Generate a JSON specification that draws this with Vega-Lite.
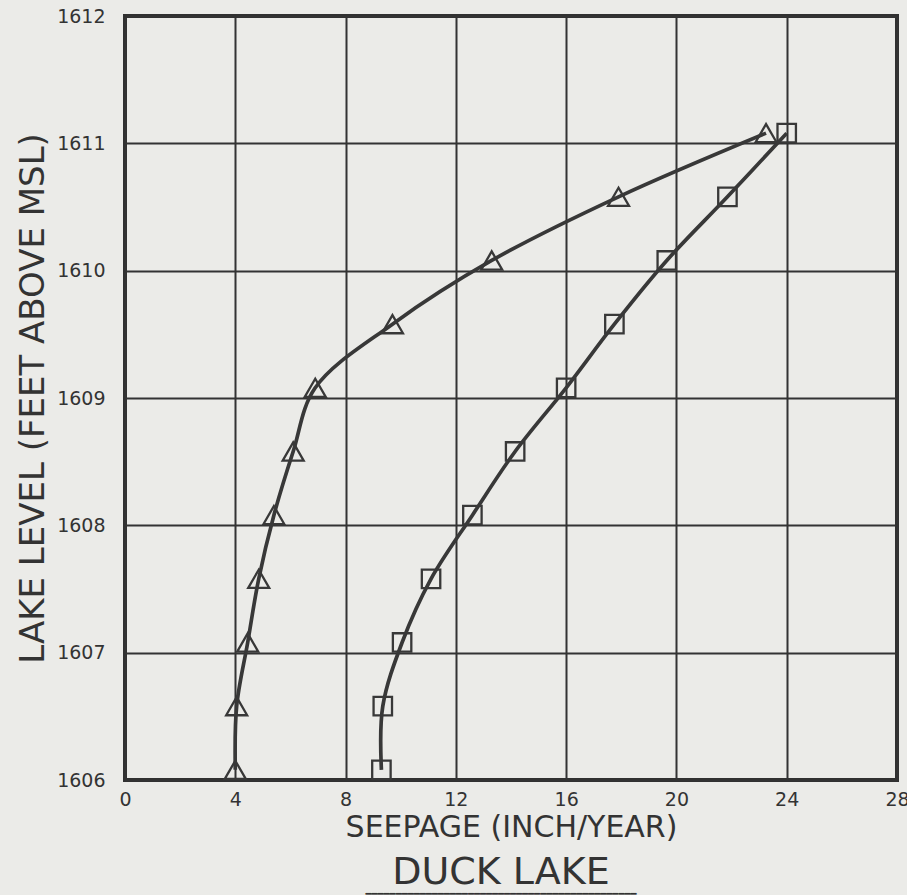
{
  "$schema": "https://vega.github.io/schema/vega-lite/v6.json",
  "width": 772,
  "height": 764,
  "autosize": {"type": "none"},
  "padding": {"left": 125, "top": 16, "right": 10, "bottom": 115},
  "background": "#ebebe8",
  "config": {
    "font": "DejaVu Sans",
    "view": {"stroke": "#303030", "strokeWidth": 4},
    "axis": {
      "grid": true,
      "gridColor": "#333333",
      "gridWidth": 2,
      "gridOpacity": 1,
      "domain": false,
      "ticks": false,
      "labelFontSize": 19,
      "labelColor": "#333333",
      "titleFontSize": 30,
      "titleColor": "#333333",
      "titleFontWeight": "normal"
    }
  },
  "title": {
    "text": "DUCK LAKE",
    "subtitle": "━━━━━━━━━━━━━━━━━━━━━━━━━━━━━━━━━━━━━━━━━━━━━",
    "orient": "bottom",
    "anchor": "middle",
    "dx": -10,
    "fontSize": 38,
    "fontWeight": "normal",
    "color": "#333333",
    "subtitleFontSize": 10,
    "subtitleColor": "#333333",
    "subtitlePadding": -3,
    "offset": 12
  },
  "data": {
    "values": [
      {"series": "triangles", "level": 1606.08, "seepage": 4.0},
      {"series": "triangles", "level": 1606.58, "seepage": 4.05},
      {"series": "triangles", "level": 1607.08, "seepage": 4.45},
      {"series": "triangles", "level": 1607.58, "seepage": 4.85},
      {"series": "triangles", "level": 1608.08, "seepage": 5.4},
      {"series": "triangles", "level": 1608.58, "seepage": 6.1},
      {"series": "triangles", "level": 1609.08, "seepage": 6.9},
      {"series": "triangles", "level": 1609.58, "seepage": 9.7},
      {"series": "triangles", "level": 1610.08, "seepage": 13.3},
      {"series": "triangles", "level": 1610.58, "seepage": 17.9},
      {"series": "triangles", "level": 1611.08, "seepage": 23.25},
      {"series": "squares", "level": 1606.08, "seepage": 9.3},
      {"series": "squares", "level": 1606.58, "seepage": 9.35},
      {"series": "squares", "level": 1607.08, "seepage": 10.05},
      {"series": "squares", "level": 1607.58, "seepage": 11.1},
      {"series": "squares", "level": 1608.08, "seepage": 12.6},
      {"series": "squares", "level": 1608.58, "seepage": 14.15},
      {"series": "squares", "level": 1609.08, "seepage": 16.0},
      {"series": "squares", "level": 1609.58, "seepage": 17.75},
      {"series": "squares", "level": 1610.08, "seepage": 19.65},
      {"series": "squares", "level": 1610.58, "seepage": 21.85},
      {"series": "squares", "level": 1611.08, "seepage": 24.0}
    ]
  },
  "encoding": {
    "x": {
      "field": "seepage",
      "type": "quantitative",
      "scale": {"domain": [0, 28], "nice": false, "zero": false},
      "axis": {
        "title": "SEEPAGE (INCH/YEAR)",
        "values": [0, 4, 8, 12, 16, 20, 24, 28],
        "labelFlush": false,
        "labelPadding": 10,
        "titleY": 56,
        "titleBaseline": "alphabetic"
      }
    },
    "y": {
      "field": "level",
      "type": "quantitative",
      "scale": {"domain": [1606, 1612], "nice": false, "zero": false},
      "axis": {
        "title": "LAKE LEVEL (FEET ABOVE MSL)",
        "values": [1606, 1607, 1608, 1609, 1610, 1611, 1612],
        "format": "d",
        "labelFlush": false,
        "labelPadding": 20,
        "titleFontSize": 34,
        "titleAngle": -90,
        "titleX": -82,
        "titleY": 382,
        "titleAlign": "center",
        "titleBaseline": "alphabetic"
      }
    }
  },
  "layer": [
    {
      "mark": {"type": "line", "interpolate": "catmull-rom", "strokeWidth": 3.7, "color": "#383838"},
      "encoding": {
        "detail": {"field": "series"},
        "order": {"field": "level", "type": "quantitative"}
      }
    },
    {
      "mark": {"type": "point", "filled": false, "strokeWidth": 2.3, "color": "#383838", "opacity": 1},
      "encoding": {
        "shape": {
          "field": "series",
          "scale": {"domain": ["triangles", "squares"], "range": ["triangle-up", "square"]},
          "legend": null
        },
        "size": {
          "field": "series",
          "type": "nominal",
          "scale": {"domain": ["triangles", "squares"], "range": [440, 340]},
          "legend": null
        }
      }
    }
  ]
}
